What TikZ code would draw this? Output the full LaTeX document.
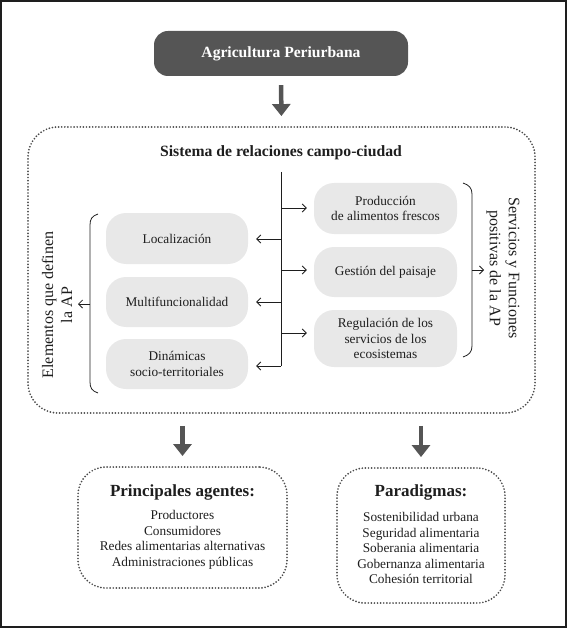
\documentclass[tikz,border=0pt]{standalone}
\usepackage{fontspec}
\setmainfont{Liberation Serif}
\usetikzlibrary{arrows.meta}
\definecolor{dk}{HTML}{555555}
\definecolor{dt}{HTML}{4A4A4A}
\definecolor{lt}{HTML}{E8E8E8}
\definecolor{tx}{HTML}{1E1E1E}
\begin{document}
\begin{tikzpicture}[x=1pt,y=-1pt,
 body/.style={font=\fontsize{13.3}{15.5}\selectfont, text=tx, align=center},
 pill/.style={fill=lt, rounded corners=20pt, inner sep=0pt, body},
 dotbox/.style={draw=dt, line width=1.9pt, dash pattern=on 0pt off 3.1pt, line cap=round, inner sep=0pt},
 bigarrow/.style={draw=dk, line width=4.5pt, -{Triangle[width=18pt,length=12pt]}},
 thinline/.style={draw=tx, line width=0.8pt},
 thinarrow/.style={thinline, -{Straight Barb[length=4pt,width=8pt]}},
 rot/.style={font=\fontsize{16}{19}\selectfont, text=tx, align=center},
 ttl/.style={font=\bfseries\fontsize{17}{20}\selectfont, text=tx}
]
\path[use as bounding box] (0,0) rectangle (567,628);
\draw[line width=1.5pt, draw=tx] (1,1) rectangle (566,627);

% top box
\node[fill=dk, rounded corners=14pt, minimum width=254pt, minimum height=45pt, text=white,
      font=\bfseries\fontsize{15.6}{18}\selectfont] (ap) at (281,53.5) {Agricultura Periurbana};

% system box
\node[dotbox, rounded corners=30pt, minimum width=507pt, minimum height=286pt] (sys) at (281.5,270) {};
\node[font=\bfseries\fontsize{15.7}{18}\selectfont, text=tx] (systitle) at (281,153) {Sistema de relaciones campo-ciudad};

\draw[bigarrow, shorten <=9pt, shorten >=10pt] (ap.south) -- (sys.north);

% left pills
\node[pill, minimum width=142pt, minimum height=51pt] (loc) at (177,238.5) {Localización};
\node[pill, minimum width=142pt, minimum height=50pt] (mul) at (177,302) {Multifuncionalidad};
\node[pill, minimum width=142pt, minimum height=50pt] (din) at (177,364) {Dinámicas\\socio-territoriales};
% right pills
\node[pill, minimum width=143pt, minimum height=51pt] (prod) at (385.5,208.5) {Producción\\de alimentos frescos};
\node[pill, minimum width=143pt, minimum height=50pt] (ges) at (385.5,272) {Gestión del paisaje};
\node[pill, minimum width=143pt, minimum height=57pt] (reg) at (385.5,338.5) {Regulación de los\\servicios de los\\ecosistemas};

% trunk
\coordinate (ttop) at (281,172);
\coordinate (tbot) at (281,366);
\coordinate (r1) at (281,208);
\coordinate (r2) at (281,270);
\coordinate (r3) at (281,333);
\coordinate (l1) at (281,239);
\coordinate (l2) at (281,302);
\draw[thinline] (ttop) -- (tbot);
\draw[thinarrow, shorten >=7pt] (r1) -- (r1 -| prod.west);
\draw[thinarrow, shorten >=7pt] (r2) -- (r2 -| ges.west);
\draw[thinarrow, shorten >=7pt] (r3) -- (r3 -| reg.west);
\draw[thinarrow, shorten >=8pt] (l1) -- (l1 -| loc.east);
\draw[thinarrow, shorten >=8pt] (l2) -- (l2 -| mul.east);
\draw[thinarrow, shorten >=8pt] (tbot) -- (tbot -| din.east);

% left brace
\draw[thinline] (98,214) .. controls (92,216) and (90,219) .. (90,225) -- (90,382) .. controls (90,388) and (92,391) .. (98,393);
\coordinate (lbm) at (90,304);
\coordinate (lbt) at (78,304);
\draw[thinarrow] (lbm) -- (lbt);
\node[rot, rotate=90] (lablft) at (57,305) {Elementos que definen\\la AP};

% right brace
\draw[thinline] (463,183) .. controls (469,185) and (472,188) .. (472,194) -- (472,346) .. controls (472,352) and (469,355) .. (463,357);
\coordinate (rbm) at (472,270);
\coordinate (rbt) at (484,270);
\draw[thinarrow] (rbm) -- (rbt);
\node[rot, rotate=-90] (labrgt) at (503,268) {Servicios y Funciones\\positivas de la AP};

% bottom boxes
\node[dotbox, rounded corners=28pt, minimum width=209pt, minimum height=121pt] (agt) at (182.5,527.5) {};
\node[dotbox, rounded corners=28pt, minimum width=168pt, minimum height=135pt] (par) at (421,535.5) {};

\draw[bigarrow, shorten <=12pt, shorten >=10pt] (sys.south -| agt.north) -- (agt.north);
\draw[bigarrow, shorten <=12pt, shorten >=10pt] (sys.south -| par.north) -- (par.north);

\node[ttl] (agtt) at (182.5,492) {Principales agentes:};
\node[body] (agtl) at (182.5,540) {Productores\\Consumidores\\Redes alimentarias alternativas\\Administraciones públicas};
\node[ttl] (part) at (421,492) {Paradigmas:};
\node[body] (parl) at (421,548) {Sostenibilidad urbana\\Seguridad alimentaria\\Soberania alimentaria\\Gobernanza alimentaria\\Cohesión territorial};
\end{tikzpicture}
\end{document}
